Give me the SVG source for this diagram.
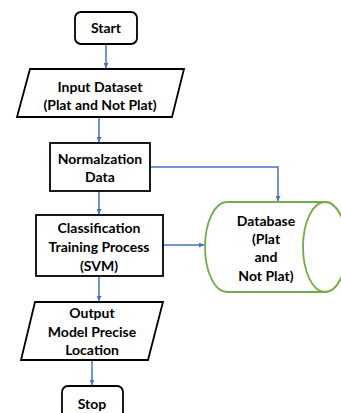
<svg xmlns="http://www.w3.org/2000/svg" width="341" height="413" viewBox="0 0 341 413">
<defs>
<marker id="ah" viewBox="0 0 10 10" refX="10" refY="5" markerWidth="5" markerHeight="5" orient="auto" markerUnits="userSpaceOnUse">
<path d="M0,0 L10,5 L0,10 z" fill="#4472C4"/>
</marker>
<style>
.box{fill:#fff;stroke:#000;stroke-width:1.8}
.cyl{fill:#fff;stroke:#70AD47;stroke-width:1.8}
.t{font-family:Lato,"Open Sans","Liberation Sans",sans-serif;font-weight:bold;font-size:14px;fill:#000;text-anchor:middle}
.c{fill:none;stroke:#4472C4;stroke-width:1.5;marker-end:url(#ah)}
</style>
</defs>
<rect width="341" height="413" fill="#fff"/>
<g id="connectors">
<path class="c" d="M106,44 V68"/>
<path class="c" d="M99,117 V142"/>
<path class="c" d="M150,167 H278 V201"/>
<path class="c" d="M99,191 V214"/>
<path class="c" d="M163,245 H204"/>
<path class="c" d="M99,276 V301"/>
<path class="c" d="M92,360 V385"/>
</g>
<g id="start">
<rect class="box" x="75" y="12" width="62" height="32" rx="6"/>
<text class="t" x="106" y="33">Start</text>
</g>
<g id="input">
<polygon class="box" points="30,69 184,69 172,117 17,117"/>
<text class="t" x="100" y="92">Input Dataset</text>
<text class="t" x="100" y="110">(Plat and Not Plat)</text>
</g>
<g id="normalization">
<rect class="box" x="50" y="143" width="100" height="48"/>
<text class="t" x="100" y="164">Normalzation</text>
<text class="t" x="100" y="182">Data</text>
</g>
<g id="classification">
<rect class="box" x="36" y="215" width="127" height="61"/>
<text class="t" x="99" y="233">Classification</text>
<text class="t" x="99" y="252">Training Process</text>
<text class="t" x="99" y="271">(SVM)</text>
</g>
<g id="database">
<path class="cyl" d="M227,202 H325 A22,45 0 0 1 325,292 H227 A22,45 0 0 1 227,202 Z"/>
<ellipse class="cyl" cx="325" cy="247" rx="22" ry="45"/>
<text class="t" x="266" y="226">Database</text>
<text class="t" x="266" y="244">(Plat</text>
<text class="t" x="266" y="262">and</text>
<text class="t" x="266" y="281">Not Plat)</text>
</g>
<g id="output">
<polygon class="box" points="35,302 163,302 148,360 21,360"/>
<text class="t" x="92" y="318">Output</text>
<text class="t" x="92" y="337">Model Precise</text>
<text class="t" x="92" y="355">Location</text>
</g>
<g id="stop">
<rect class="box" x="62" y="386" width="61" height="40" rx="6"/>
<text class="t" x="92" y="409">Stop</text>
</g>
</svg>
